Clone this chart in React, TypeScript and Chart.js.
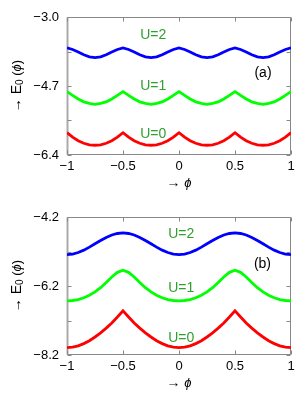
import React, { useEffect, useRef } from "react";
import { Chart, registerables } from "chart.js";

Chart.register(...registerables);

const PHI = [
  -1, -0.95, -0.9, -0.85, -0.8, -0.75, -0.7, -0.65, -0.6, -0.55,
  -0.5, -0.45, -0.4, -0.35, -0.3, -0.25, -0.2, -0.15, -0.1, -0.05,
  0, 0.05, 0.1, 0.15, 0.2, 0.25, 0.3, 0.35, 0.4, 0.45,
  0.5, 0.55, 0.6, 0.65, 0.7, 0.75, 0.8, 0.85, 0.9, 0.95, 1,
];

// Panel (a)
const A_U2 = [
  -3.76, -3.8, -3.86, -3.93, -3.98, -4.0, -3.98, -3.93, -3.86, -3.8,
  -3.76, -3.8, -3.86, -3.93, -3.98, -4.0, -3.98, -3.93, -3.86, -3.8,
  -3.76, -3.8, -3.86, -3.93, -3.98, -4.0, -3.98, -3.93, -3.86, -3.8,
  -3.76, -3.8, -3.86, -3.93, -3.98, -4.0, -3.98, -3.93, -3.86, -3.8,
  -3.76,
];
const A_U1 = [
  -4.84, -4.93, -5.02, -5.09, -5.13, -5.15, -5.13, -5.09, -5.02, -4.93,
  -4.84, -4.93, -5.02, -5.09, -5.13, -5.15, -5.13, -5.09, -5.02, -4.93,
  -4.84, -4.93, -5.02, -5.09, -5.13, -5.15, -5.13, -5.09, -5.02, -4.93,
  -4.84, -4.93, -5.02, -5.09, -5.13, -5.15, -5.13, -5.09, -5.02, -4.93,
  -4.84,
];
const A_U0 = [
  -5.85, -5.96, -6.05, -6.11, -6.15, -6.16, -6.15, -6.11, -6.05, -5.96,
  -5.85, -5.96, -6.05, -6.11, -6.15, -6.16, -6.15, -6.11, -6.05, -5.96,
  -5.85, -5.96, -6.05, -6.11, -6.15, -6.16, -6.15, -6.11, -6.05, -5.96,
  -5.85, -5.96, -6.05, -6.11, -6.15, -6.16, -6.15, -6.11, -6.05, -5.96,
  -5.85,
];

// Panel (b)
const B_U2 = [
  -5.289, -5.274, -5.23, -5.16, -5.073, -4.976, -4.879, -4.792, -4.722, -4.678,
  -4.663,
  -4.678, -4.722, -4.792, -4.879, -4.976, -5.073, -5.16, -5.23, -5.274,
  -5.289,
  -5.274, -5.23, -5.16, -5.073, -4.976, -4.879, -4.792, -4.722, -4.678,
  -4.663,
  -4.678, -4.722, -4.792, -4.879, -4.976, -5.073, -5.16, -5.23, -5.274,
  -5.289,
];
const B_U1 = [
  -6.629, -6.62, -6.594, -6.54, -6.469, -6.372, -6.248, -6.097, -5.937, -5.804,
  -5.742,
  -5.804, -5.937, -6.097, -6.248, -6.372, -6.469, -6.54, -6.594, -6.62,
  -6.629,
  -6.62, -6.594, -6.54, -6.469, -6.372, -6.248, -6.097, -5.937, -5.804,
  -5.742,
  -5.804, -5.937, -6.097, -6.248, -6.372, -6.469, -6.54, -6.594, -6.62,
  -6.629,
];
const B_U0 = [
  -7.988, -7.972, -7.935, -7.87, -7.785, -7.678, -7.56, -7.421, -7.271, -7.1,
  -6.918,
  -7.1, -7.271, -7.421, -7.56, -7.678, -7.785, -7.87, -7.935, -7.972,
  -7.988,
  -7.972, -7.935, -7.87, -7.785, -7.678, -7.56, -7.421, -7.271, -7.1,
  -6.918,
  -7.1, -7.271, -7.421, -7.56, -7.678, -7.785, -7.87, -7.935, -7.972,
  -7.988,
];

const X_TICKS = [-1, -0.5, 0, 0.5, 1];
const X_TICK_LABELS = ["\u22121", "\u22120.5", "0", "0.5", "1"];

const A_Y_TICKS = [-6.4, -5.55, -4.7, -3.85, -3.0];
const A_Y_LABELS = ["\u22126.4", "", "\u22124.7", "", "\u22123.0"];
const B_Y_TICKS = [-8.2, -7.2, -6.2, -5.2, -4.2];
const B_Y_LABELS = ["\u22128.2", "", "\u22126.2", "", "\u22124.2"];

const SERIES_NAMES = ["U=2", "U=1", "U=0"];
const SERIES_COLORS = ["#0000ff", "#00ff00", "#ff0000"];

// label anchors in data units
const A_NOTES = [
  { text: "U=2", x: -0.23, y: -3.45 },
  { text: "U=1", x: -0.23, y: -4.71 },
  { text: "U=0", x: -0.23, y: -5.89 },
];
const B_NOTES = [
  { text: "U=2", x: 0.02, y: -4.7 },
  { text: "U=1", x: 0.02, y: -6.27 },
  { text: "U=0", x: 0.02, y: -7.72 },
];
const A_TAG = { text: "(a)", x: 0.75, y: -4.39 };
const B_TAG = { text: "(b)", x: 0.745, y: -5.57 };

const FONT = "'Liberation Sans', Arial, Helvetica, sans-serif";

type Part = { t: string; size: number; italic?: boolean; dy?: number };

function drawParts(ctx: CanvasRenderingContext2D, parts: Part[], cx: number, cy: number) {
  let total = 0;
  const widths = parts.map((p) => {
    ctx.font = `${p.italic ? "italic " : ""}${p.size}px ${FONT}`;
    const w = ctx.measureText(p.t).width;
    total += w;
    return w;
  });
  let x = cx - total / 2;
  parts.forEach((p, i) => {
    ctx.font = `${p.italic ? "italic " : ""}${p.size}px ${FONT}`;
    ctx.fillText(p.t, x, cy + (p.dy || 0));
    x += widths[i];
  });
}

function Panel(props: {
  series: number[][];
  yTicks: number[];
  yLabels: string[];
  notes: { text: string; x: number; y: number }[];
  tag: { text: string; x: number; y: number };
}) {
  const ref = useRef<HTMLCanvasElement | null>(null);
  useEffect(() => {
    const canvas = ref.current;
    if (!canvas) return;
    const { series, yTicks, yLabels, notes, tag } = props;
    const yMin = yTicks[0];
    const yMax = yTicks[yTicks.length - 1];

    const decor = {
      id: "decor",
      beforeDatasetsDraw(chart: any) {
        const ctx = chart.ctx as CanvasRenderingContext2D;
        const a = chart.chartArea;
        const xs = chart.scales.x;
        const ys = chart.scales.y;
        ctx.save();
        ctx.strokeStyle = "#888";
        ctx.lineWidth = 1;
        const L = Math.round(a.left) + 0.5;
        const R = Math.round(a.right) - 0.5;
        const T = Math.round(a.top) + 0.5;
        const B = Math.round(a.bottom) - 0.5;
        ctx.beginPath();
        ctx.moveTo(L, T);
        ctx.lineTo(R, T);
        ctx.lineTo(R, B);
        ctx.lineTo(L, B);
        ctx.stroke();
        ctx.strokeStyle = "#aaa";
        ctx.lineWidth = 2;
        ctx.beginPath();
        ctx.moveTo(L, T);
        ctx.lineTo(L, B);
        ctx.stroke();
        ctx.strokeStyle = "#888";
        ctx.lineWidth = 1;
        const tl = 4;
        ctx.beginPath();
        X_TICKS.forEach((v) => {
          const px = Math.round(xs.getPixelForValue(v)) + 0.5;
          ctx.moveTo(px, B);
          ctx.lineTo(px, B - tl);
          ctx.moveTo(px, T);
          ctx.lineTo(px, T + tl);
        });
        yTicks.forEach((v) => {
          const py = Math.round(ys.getPixelForValue(v)) + 0.5;
          ctx.moveTo(L, py);
          ctx.lineTo(L + tl, py);
          ctx.moveTo(R, py);
          ctx.lineTo(R - tl, py);
        });
        ctx.stroke();
        ctx.restore();
      },
      afterDraw(chart: any) {
        const ctx = chart.ctx as CanvasRenderingContext2D;
        const a = chart.chartArea;
        const xs = chart.scales.x;
        const ys = chart.scales.y;
        ctx.save();
        ctx.textBaseline = "middle";
        ctx.textAlign = "left";
        ctx.fillStyle = "#2f9f2f";
        notes.forEach((n) => {
          drawParts(ctx, [{ t: n.text, size: 14 }], xs.getPixelForValue(n.x), ys.getPixelForValue(n.y));
        });
        ctx.fillStyle = "#000";
        drawParts(ctx, [{ t: tag.text, size: 14 }], xs.getPixelForValue(tag.x), ys.getPixelForValue(tag.y));
        // x title
        drawParts(
          ctx,
          [
            { t: "\u2192 ", size: 14 },
            { t: "\u03d5", size: 13, italic: true },
          ],
          (a.left + a.right) / 2,
          183
        );
        // y title
        ctx.translate(17, (a.top + a.bottom) / 2);
        ctx.rotate(-Math.PI / 2);
        drawParts(
          ctx,
          [
            { t: "\u2192 E", size: 14 },
            { t: "0", size: 10, dy: 3 },
            { t: " (", size: 13 },
            { t: "\u03d5", size: 13, italic: true },
            { t: ")", size: 13 },
          ],
          0,
          0
        );
        ctx.restore();
      },
    };

    const chart = new Chart(canvas, {
      type: "line",
      data: {
        datasets: series.map((s, i) => ({
          label: SERIES_NAMES[i],
          data: PHI.map((x, j) => ({ x, y: s[j] })),
          borderColor: SERIES_COLORS[i],
          backgroundColor: SERIES_COLORS[i],
          borderWidth: 2.8,
          pointRadius: 0,
          tension: 0,
          fill: false,
        })),
      },
      options: {
        responsive: false,
        animation: false,
        devicePixelRatio: 1,
        layout: { padding: { left: 0, right: 17, top: 17, bottom: 0 } },
        plugins: { legend: { display: false }, tooltip: { enabled: false } },
        scales: {
          x: {
            type: "linear",
            min: -1,
            max: 1,
            grid: { display: false, drawTicks: false },
            border: { display: false },
            afterBuildTicks: (s: any) => {
              s.ticks = X_TICKS.map((v) => ({ value: v }));
            },
            afterFit: (s: any) => {
              s.height = 45;
            },
            ticks: {
              autoSkip: false,
              maxRotation: 0,
              padding: 4,
              color: "#000",
              font: { family: FONT, size: 13 },
              callback: (v: any) => {
                const i = X_TICKS.indexOf(Number(v));
                return i >= 0 ? X_TICK_LABELS[i] : "";
              },
            },
          },
          y: {
            type: "linear",
            min: yMin,
            max: yMax,
            grid: { display: false, drawTicks: false },
            border: { display: false },
            afterBuildTicks: (s: any) => {
              s.ticks = yTicks.map((v) => ({ value: v }));
            },
            afterFit: (s: any) => {
              s.width = 67;
            },
            ticks: {
              autoSkip: false,
              padding: 8,
              color: "#000",
              font: { family: FONT, size: 13 },
              callback: (v: any) => {
                const i = yTicks.findIndex((t) => Math.abs(t - Number(v)) < 1e-6);
                return i >= 0 ? yLabels[i] : "";
              },
            },
          },
        },
      },
      plugins: [decor],
    } as any);
    return () => chart.destroy();
  }, []);
  return <canvas ref={ref} width={308} height={200} style={{ display: "block", width: 308, height: 200 }} />;
}

export default function App() {
  return (
    <div style={{ position: "absolute", left: 0, top: 0, width: 308, height: 400, background: "#fff" }}>
      <Panel series={[A_U2, A_U1, A_U0]} yTicks={A_Y_TICKS} yLabels={A_Y_LABELS} notes={A_NOTES} tag={A_TAG} />
      <Panel series={[B_U2, B_U1, B_U0]} yTicks={B_Y_TICKS} yLabels={B_Y_LABELS} notes={B_NOTES} tag={B_TAG} />
    </div>
  );
}
